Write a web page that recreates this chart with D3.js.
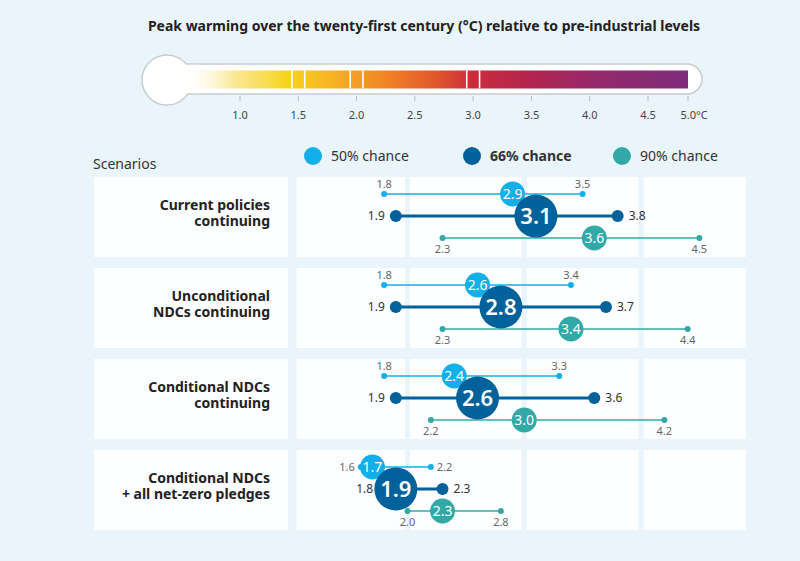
<!DOCTYPE html>
<html>
<head>
<meta charset="utf-8">
<script src="https://cdn.jsdelivr.net/npm/d3@7"></script>
<style>
  body { margin: 0; background: #eaf4fb; }
  svg { display: block; font-family: "Noto Sans", "Open Sans", sans-serif; }
</style>
</head>
<body>
<div class="chart"></div>
<script>
const SVG_WIDTH = 800;
const SVG_HEIGHT = 561;

// data
const scenarios = [
    ["Current policies", "continuing"],
    ["Unconditional", "NDCs continuing"],
    ["Conditional NDCs", "continuing"],
    ["Conditional NDCs", "+ all net-zero pledges"]
];
// [low, central, high]
const chance50 = [[1.8, 2.9, 3.5], [1.8, 2.6, 3.4], [1.8, 2.4, 3.3], [1.6, 1.7, 2.2]];
const chance66 = [[1.9, 3.1, 3.8], [1.9, 2.8, 3.7], [1.9, 2.6, 3.6], [1.8, 1.9, 2.3]];
const chance90 = [[2.3, 3.6, 4.5], [2.3, 3.4, 4.4], [2.2, 3.0, 4.2], [2.0, 2.3, 2.8]];
// 50% end labels sit beside the dots (instead of above) in the last row
const sideLabels50 = [false, false, false, true];

const legendLabels = ["50% chance", "66% chance", "90% chance"];
const thermoTicks = [1.0, 1.5, 2.0, 2.5, 3.0, 3.5, 4.0, 4.5, 5.0];
const thermoMarks = [1.5, 2.0, 3.0];
const panelBreaks = [1.05, 2, 3, 4, 4.9];

const COL50 = "#12b0ea";
const COL66 = "#00629b";
const COL90 = "#33a9a7";

const svg = d3.select(".chart").append("svg")
    .attr("width", SVG_WIDTH)
    .attr("height", SVG_HEIGHT);

svg.append("rect").attr("width", SVG_WIDTH).attr("height", SVG_HEIGHT).attr("fill", "#eaf4fb");

svg.append("text")
    .attr("x", 424).attr("y", 31)
    .attr("text-anchor", "middle")
    .attr("fill", "#222")
    .style("font-size", "14px")
    .style("font-weight", "700")
    .text("Peak warming over the twenty-first century (°C) relative to pre-industrial levels");

// ---------- thermometer ----------
const tScale = d3.scaleLinear().domain([1, 4.5, 5]).range([240, 648, 688]);
const thermo = svg.append("g");
const tubeY = 64, tubeH = 30;
const barY = 70.5, barH = 18;

const defs = svg.append("defs");
const grad = defs.append("linearGradient").attr("id", "heat")
    .attr("gradientUnits", "userSpaceOnUse")
    .attr("x1", 180).attr("x2", tScale(5)).attr("y1", 0).attr("y2", 0);
[
    [180, "#ffffff", 0],
    [tScale(0.95), "#f9e27a", 0.8],
    [tScale(1.4), "#f7d41e", 1],
    [tScale(1.8), "#f6b223", 1],
    [tScale(2.3), "#ef7f25", 1],
    [tScale(2.7), "#e0552e", 1],
    [tScale(3.0), "#cc2a3c", 1],
    [tScale(3.5), "#b2244f", 1],
    [tScale(4.1), "#922a6c", 1],
    [tScale(5), "#7e2c7a", 1]
].forEach(([x, c, o]) => {
    grad.append("stop")
        .attr("offset", (x - 180) / (tScale(5) - 180))
        .attr("stop-color", c)
        .attr("stop-opacity", o);
});

thermo.append("rect")
    .attr("x", 160).attr("y", tubeY)
    .attr("width", tScale(5) + 14 - 160).attr("height", tubeH)
    .attr("rx", tubeH / 2)
    .attr("fill", "#fff").attr("stroke", "#c8ccd0").attr("stroke-width", 1.5);
thermo.append("circle")
    .attr("cx", 167).attr("cy", 80).attr("r", 25)
    .attr("fill", "#fff").attr("stroke", "#c8ccd0").attr("stroke-width", 1.5);
// cover the seam between bulb and tube
thermo.append("rect")
    .attr("x", 178).attr("y", tubeY + 0.8)
    .attr("width", 20).attr("height", tubeH - 1.6)
    .attr("fill", "#fff");
thermo.append("rect")
    .attr("x", 180).attr("y", barY)
    .attr("width", tScale(5) - 180).attr("height", barH)
    .attr("fill", "url(#heat)");

thermoMarks.forEach(v => {
    [-0.055, 0.055].forEach(d => {
        thermo.append("line")
            .attr("x1", tScale(v + d)).attr("x2", tScale(v + d))
            .attr("y1", barY).attr("y2", barY + barH)
            .attr("stroke", "#fff").attr("stroke-width", 1.6);
    });
});

thermo.selectAll(".ttick").data(thermoTicks).join("line")
    .attr("x1", d => tScale(d)).attr("x2", d => tScale(d))
    .attr("y1", 96).attr("y2", 101)
    .attr("stroke", "#b8bcc0").attr("stroke-width", 1);

thermo.selectAll(".tlabel").data(thermoTicks).join("text")
    .attr("x", d => tScale(d) + (d === 5 ? 6 : 0))
    .attr("y", 119)
    .attr("text-anchor", "middle")
    .attr("fill", "#444")
    .style("font-size", "11px")
    .text(d => d === 5 ? "5.0°C" : d.toFixed(1));

// ---------- legend ----------
svg.append("text")
    .attr("x", 93).attr("y", 169)
    .attr("fill", "#333")
    .style("font-size", "14px")
    .text("Scenarios");

const legendX = [313, 472, 622];
const legendCol = [COL50, COL66, COL90];
legendLabels.forEach((lab, i) => {
    svg.append("circle")
        .attr("cx", legendX[i]).attr("cy", 156).attr("r", 9)
        .attr("fill", legendCol[i]);
    svg.append("text")
        .attr("x", legendX[i] + 18).attr("y", 161)
        .attr("fill", "#333")
        .style("font-size", "14px")
        .style("font-weight", i === 1 ? "700" : "400")
        .text(lab);
});

// ---------- dot chart ----------
const x = d3.scaleLinear().domain([2, 4]).range([407.5, 641]);
const y = d3.scaleBand().domain(d3.range(scenarios.length)).range([177, 530]).paddingInner(0.12);

const panels = svg.append("g");
const rows = svg.append("g");

scenarios.forEach((s, i) => {
    const top = y(i);
    panels.append("rect")
        .attr("x", 94).attr("y", top)
        .attr("width", 194).attr("height", y.bandwidth())
        .attr("fill", "#fff").attr("fill-opacity", 0.9);
    for (let k = 0; k < panelBreaks.length - 1; k++) {
        const x0 = x(panelBreaks[k]) + (k === 0 ? 0 : 2.5);
        const x1 = x(panelBreaks[k + 1]) - (k === panelBreaks.length - 2 ? 0 : 2.5);
        panels.append("rect")
            .attr("x", x0).attr("y", top)
            .attr("width", x1 - x0).attr("height", y.bandwidth())
            .attr("fill", "#fff").attr("fill-opacity", 0.9);
    }

    const cy = top + y.bandwidth() / 2;
    const label = rows.append("text")
        .attr("text-anchor", "end")
        .attr("fill", "#222")
        .style("font-size", "14px")
        .style("font-weight", "700");
    s.forEach((line, j) => {
        label.append("tspan")
            .attr("x", 270)
            .attr("y", cy + 1 + (j - (s.length - 1) / 2) * 16)
            .text(line);
    });
});

const series = [
    { data: chance50, col: COL50, dy: -23, lw: 1.6, er: 3, cr: 12.5, fs: 14, pos: "above" },
    { data: chance66, col: COL66, dy: -1, lw: 3, er: 6, cr: 21.5, fs: 22, pos: "side" },
    { data: chance90, col: COL90, dy: 21, lw: 1.6, er: 3, cr: 12.5, fs: 14, pos: "below" }
];

const lineLayer = svg.append("g");
const circleLayer = svg.append("g");

scenarios.forEach((s, i) => {
    const cy0 = y(i) + y.bandwidth() / 2;
    series.forEach((sr, si) => {
        const [lo, mid, hi] = sr.data[i];
        const ly = cy0 + sr.dy;
        lineLayer.append("line")
            .attr("x1", x(lo)).attr("x2", x(hi))
            .attr("y1", ly).attr("y2", ly)
            .attr("stroke", sr.col).attr("stroke-width", sr.lw);
        [lo, hi].forEach((v, e) => {
            lineLayer.append("circle")
                .attr("cx", x(v)).attr("cy", ly).attr("r", sr.er)
                .attr("fill", sr.col);
            let pos = sr.pos;
            if (si === 0 && sideLabels50[i]) pos = "side";
            const t = lineLayer.append("text")
                .attr("fill", si === 1 ? "#333" : "#666")
                .style("font-size", si === 1 ? "12px" : "11px")
                .text(v.toFixed(1));
            if (pos === "side") {
                const off = sr.er + (si === 1 ? 5 : 3);
                t.attr("x", e === 0 ? x(v) - off : x(v) + off)
                 .attr("y", ly + 4)
                 .attr("text-anchor", e === 0 ? "end" : "start");
            } else if (pos === "above") {
                t.attr("x", x(v)).attr("y", ly - 6).attr("text-anchor", "middle");
            } else {
                t.attr("x", x(v)).attr("y", ly + 15).attr("text-anchor", "middle");
            }
        });
        circleLayer.append("circle")
            .attr("cx", x(mid)).attr("cy", ly).attr("r", sr.cr)
            .attr("fill", sr.col);
        circleLayer.append("text")
            .attr("x", x(mid)).attr("y", ly + sr.fs * 0.36)
            .attr("text-anchor", "middle")
            .attr("fill", "#fff")
            .style("font-size", sr.fs + "px")
            .style("font-weight", si === 1 ? "600" : "400")
            .text(mid.toFixed(1));
    });
});
</script>
</body>
</html>
